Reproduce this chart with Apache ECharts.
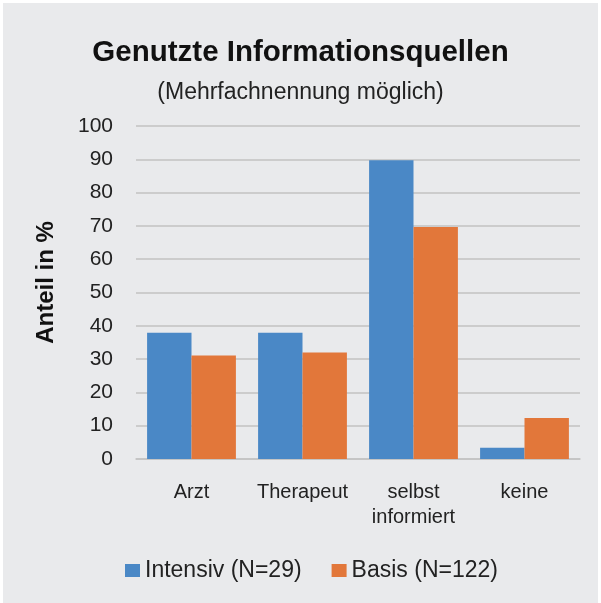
<!DOCTYPE html>
<html>
<head>
<meta charset="utf-8">
<script src="https://cdn.jsdelivr.net/npm/echarts@6/dist/echarts.min.js"></script>
<style>
html,body{margin:0;padding:0;background:#ffffff;}
#wrap{position:relative;width:601px;height:603px;background:#ffffff;overflow:hidden;}
#chart{position:absolute;left:3px;top:3px;width:595px;height:600px;}
</style>
</head>
<body>
<div id="wrap"><div id="chart"></div></div>
<script>
const categories = ['Arzt', 'Therapeut', 'selbst\ninformiert', 'keine'];
const intensivValues = [37.9, 37.9, 89.7, 3.4];
const basisValues = [31.1, 32.0, 69.7, 12.3];
const seriesNames = ['Intensiv (N=29)', 'Basis (N=122)'];
const yTicks = [0, 10, 20, 30, 40, 50, 60, 70, 80, 90, 100];

const FONT = '"Liberation Sans", Arial, sans-serif';
const chart = echarts.init(document.getElementById('chart'), null, {renderer: 'canvas'});
chart.setOption({
  backgroundColor: '#e9eaec',
  animation: false,
  title: {
    text: 'Genutzte Informationsquellen',
    subtext: '(Mehrfachnennung möglich)',
    left: 'center',
    top: 30,
    itemGap: 13,
    textStyle: {fontFamily: FONT, fontSize: 29.5, fontWeight: 'bold', color: '#111111'},
    subtextStyle: {fontFamily: FONT, fontSize: 23, color: '#222222'}
  },
  legend: {
    data: seriesNames,
    left: 117,
    top: 551,
    itemWidth: 15,
    itemHeight: 13,
    itemGap: 30,
    icon: 'rect',
    textStyle: {fontFamily: FONT, fontSize: 23, color: '#222222'}
  },
  grid: {left: 133, right: 18, top: 123, bottom: 144, containLabel: false},
  xAxis: {
    type: 'category',
    data: categories,
    axisLine: {lineStyle: {color: '#c2c2c2', width: 1.5}},
    axisTick: {show: false},
    axisLabel: {interval: 0, fontFamily: FONT, fontSize: 20, color: '#222222', margin: 21, lineHeight: 25}
  },
  yAxis: {
    type: 'value',
    min: yTicks[0],
    max: yTicks[yTicks.length - 1],
    interval: 10,
    name: 'Anteil in %',
    nameLocation: 'middle',
    nameRotate: 90,
    nameGap: 78,
    nameTextStyle: {fontFamily: FONT, fontSize: 24, fontWeight: 'bold', color: '#111111', padding: [0,0,0,20]},
    axisLine: {show: false},
    axisTick: {show: false},
    splitLine: {lineStyle: {color: '#c2c2c2', width: 1.5}},
    axisLabel: {fontFamily: FONT, fontSize: 21, color: '#222222', margin: 23}
  },
  series: [
    {name: seriesNames[0], type: 'bar', data: intensivValues, barGap: '0%', barCategoryGap: '20%', itemStyle: {color: '#4a88c6'}},
    {name: seriesNames[1], type: 'bar', data: basisValues, barGap: '0%', barCategoryGap: '20%', itemStyle: {color: '#e2773a'}}
  ]
});
</script>
</body>
</html>
